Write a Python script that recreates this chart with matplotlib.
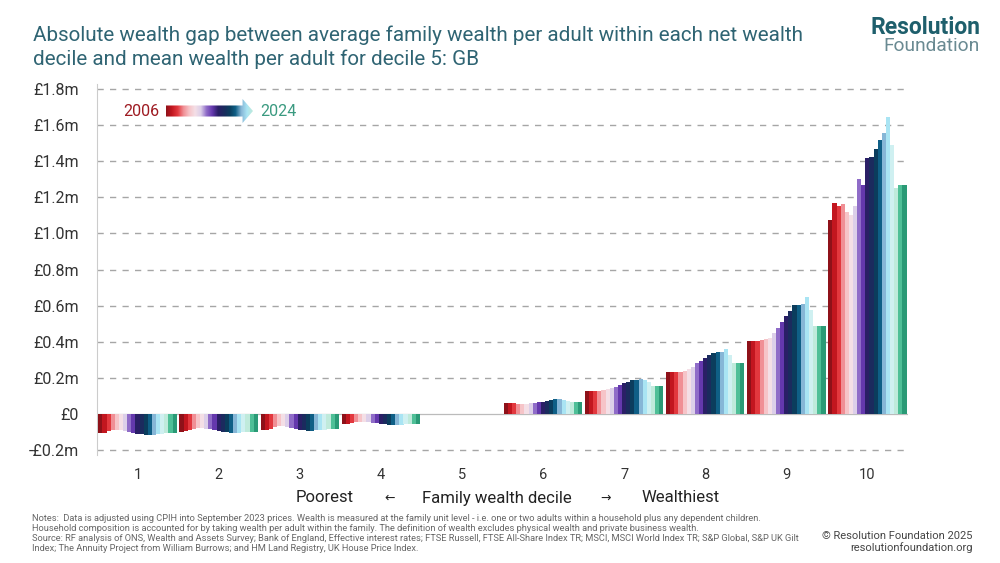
import matplotlib
matplotlib.use("Agg")
import matplotlib.pyplot as plt
import numpy as np
from matplotlib.colors import LinearSegmentedColormap
from matplotlib.patches import Polygon

# ---------------- data ----------------
years = list(range(2006, 2025))
deciles = ["1", "2", "3", "4", "5", "6", "7", "8", "9", "10"]

d1 = [-0.106, -0.105, -0.093, -0.091, -0.089, -0.090, -0.094, -0.100, -0.105, -0.109,
      -0.113, -0.115, -0.118, -0.116, -0.113, -0.111, -0.106, -0.105, -0.105]
d2 = [-0.098, -0.097, -0.088, -0.083, -0.080, -0.080, -0.081, -0.085, -0.089, -0.093,
      -0.098, -0.102, -0.104, -0.104, -0.104, -0.103, -0.100, -0.099, -0.098]
d3 = [-0.089, -0.089, -0.086, -0.072, -0.067, -0.067, -0.070, -0.078, -0.084, -0.088,
      -0.091, -0.092, -0.092, -0.090, -0.089, -0.087, -0.086, -0.086, -0.085]
d4 = [-0.056, -0.056, -0.052, -0.046, -0.044, -0.044, -0.045, -0.048, -0.052, -0.055,
      -0.058, -0.060, -0.061, -0.060, -0.059, -0.058, -0.057, -0.057, -0.057]
d5 = [0.0, 0.0, 0.0, 0.0, 0.0, 0.0, 0.0, 0.0, 0.0, 0.0,
      0.0, 0.0, 0.0, 0.0, 0.0, 0.0, 0.0, 0.0, 0.0]
d6 = [0.059, 0.059, 0.059, 0.056, 0.056, 0.056, 0.059, 0.063, 0.066, 0.068,
      0.072, 0.077, 0.081, 0.081, 0.077, 0.074, 0.066, 0.066, 0.066]
d7 = [0.129, 0.129, 0.129, 0.129, 0.131, 0.137, 0.142, 0.151, 0.161, 0.170,
      0.179, 0.188, 0.188, 0.192, 0.190, 0.179, 0.157, 0.157, 0.157]
d8 = [0.231, 0.231, 0.231, 0.234, 0.238, 0.247, 0.262, 0.280, 0.295, 0.308,
      0.327, 0.340, 0.345, 0.345, 0.358, 0.327, 0.284, 0.284, 0.284]
d9 = [0.404, 0.404, 0.404, 0.410, 0.415, 0.420, 0.447, 0.475, 0.510, 0.543,
      0.572, 0.604, 0.604, 0.609, 0.646, 0.576, 0.488, 0.488, 0.488]
d10 = [1.075, 1.170, 1.150, 1.163, 1.120, 1.100, 1.150, 1.300, 1.270, 1.420,
       1.425, 1.470, 1.520, 1.555, 1.645, 1.490, 1.250, 1.270, 1.270]

series = [d1, d2, d3, d4, d5, d6, d7, d8, d9, d10]

year_colors = ["#8e1119", "#c2161f", "#e2383e", "#f08f95", "#f6c4c8", "#f4dfe6",
               "#dccfe9", "#8f6cc8", "#6438ad", "#2a1f66", "#1b2b5e", "#0b3d5d",
               "#0f5f86", "#86b6d6", "#a9e4f3", "#cff0f1", "#bfeadb", "#4fbf97",
               "#2a9a76"]

ytick_vals = [-0.2, 0.0, 0.2, 0.4, 0.6, 0.8, 1.0, 1.2, 1.4, 1.6, 1.8]
ytick_labels = ["-£0.2m", "£0", "£0.2m", "£0.4m", "£0.6m", "£0.8m", "£1.0m",
                "£1.2m", "£1.4m", "£1.6m", "£1.8m"]

# ---------------- figure ----------------
plt.rcParams['font.family'] = ['Roboto', 'DejaVu Sans']
fig = plt.figure(figsize=(10, 5.63), dpi=100)
fig.patch.set_facecolor("white")

ax = fig.add_axes([0.097, 0.1911, 0.811, 0.6604])

n = len(years)
gw = 0.965
bw = gw / n
for i, vals in enumerate(series):
    center = i + 1
    xs = [center - gw / 2 + (j + 0.5) * bw for j in range(n)]
    ax.bar(xs, vals, width=bw * 1.02, color=year_colors, linewidth=0, zorder=3)

ax.set_xlim(0.5, 10.5)
ax.set_ylim(-0.23, 1.83)
ax.set_yticks(ytick_vals)
ax.set_yticklabels(ytick_labels, fontsize=11.5, color="#333333")
ax.set_xticks(range(1, 11))
ax.set_xticklabels(deciles, fontsize=10.5, color="#333333")
ax.tick_params(axis="both", length=0)
ax.tick_params(axis="y", pad=13)
ax.tick_params(axis="x", pad=9)

for v in ytick_vals:
    if v == 0:
        ax.axhline(v, color="#bbbbbb", lw=0.9, zorder=2)
    else:
        ax.axhline(v, color="#a6a6a6", lw=1.0, linestyle=(0, (4.5, 4.5)), zorder=1)

for s in ["top", "right", "bottom"]:
    ax.spines[s].set_visible(False)
ax.spines["left"].set_color("#cccccc")
ax.spines["left"].set_linewidth(0.8)
ax.spines["left"].set_bounds(-0.23, 1.83)

# ---------------- titles ----------------
title_col = "#2f6473"
fig.text(0.033, 0.938, "Absolute wealth gap between average family wealth per adult within each net wealth",
         fontsize=14.9, color=title_col, va="center", ha="left")
fig.text(0.033, 0.894, "decile and mean wealth per adult for decile 5: GB",
         fontsize=14.9, color=title_col, va="center", ha="left")

# logo
fig.text(0.980, 0.951, "Resolution", fontsize=16.5, fontweight="bold", color="#1e5f6c",
         ha="right", va="center")
fig.text(0.980, 0.918, "Foundation", fontsize=13.8, color="#6a8a92", ha="right", va="center")

# ---------------- legend arrow ----------------
fig.text(0.141, 1 - 112 / 563, "2006", fontsize=11.5, color="#9e1b22", ha="center", va="center")
fig.text(0.278, 1 - 112 / 563, "2024", fontsize=11.5, color="#3a9a80", ha="center", va="center")

cmap = LinearSegmentedColormap.from_list("yrs", year_colors[:15] + ["#bfeadb"])
lax = fig.add_axes([0.166, 1 - 123 / 563, 0.087, 24 / 563])
lax.set_xlim(0, 1)
lax.set_ylim(0, 1)
lax.axis("off")
grad = np.linspace(0, 1, 256).reshape(1, -1)
im = lax.imshow(grad, aspect="auto", cmap=cmap, extent=(0, 1, 0, 1))
arrow = Polygon([(0, 0.27), (0.88, 0.27), (0.88, 0.0), (1.0, 0.5), (0.88, 1.0),
                 (0.88, 0.73), (0, 0.73)], closed=True, transform=lax.transData,
                facecolor="none", edgecolor="none")
lax.add_patch(arrow)
im.set_clip_path(arrow)

# ---------------- x axis label ----------------
yl = 1 - 498 / 563
fig.text(0.325, yl, "Poorest", fontsize=12, color="#222222", ha="center", va="center")
fig.text(0.390, yl, "←", fontsize=9, color="#222222", ha="center", va="center")
fig.text(0.497, yl, "Family wealth decile", fontsize=12, color="#222222", ha="center", va="center")
fig.text(0.606, yl, "→", fontsize=9, color="#222222", ha="center", va="center")
fig.text(0.681, yl, "Wealthiest", fontsize=12, color="#222222", ha="center", va="center")

# ---------------- notes ----------------
notes = ("Notes:  Data is adjusted using CPIH into September 2023 prices. Wealth is measured at the family unit level - i.e. one or two adults within a household plus any dependent children.\n"
         "Household composition is accounted for by taking wealth per adult within the family. The definition of wealth excludes physical wealth and private business wealth.\n"
         "Source: RF analysis of ONS, Wealth and Assets Survey; Bank of England, Effective interest rates; FTSE Russell, FTSE All-Share Index TR; MSCI, MSCI World Index TR; S&P Global, S&P UK Gilt\n"
         "Index; The Annuity Project from William Burrows; and HM Land Registry, UK House Price Index.")
fig.text(0.032, 1 - 514 / 563, notes, fontsize=6.7, color="#666666", ha="left", va="top",
         linespacing=1.14)

fig.text(0.973, 1 - 536 / 563, "© Resolution Foundation 2025", fontsize=8.0, color="#444444",
         ha="right", va="center")
fig.text(0.973, 1 - 548 / 563, "resolutionfoundation.org", fontsize=8.0, color="#444444",
         ha="right", va="center")

fig.savefig("out.png", dpi=100, facecolor="white")
